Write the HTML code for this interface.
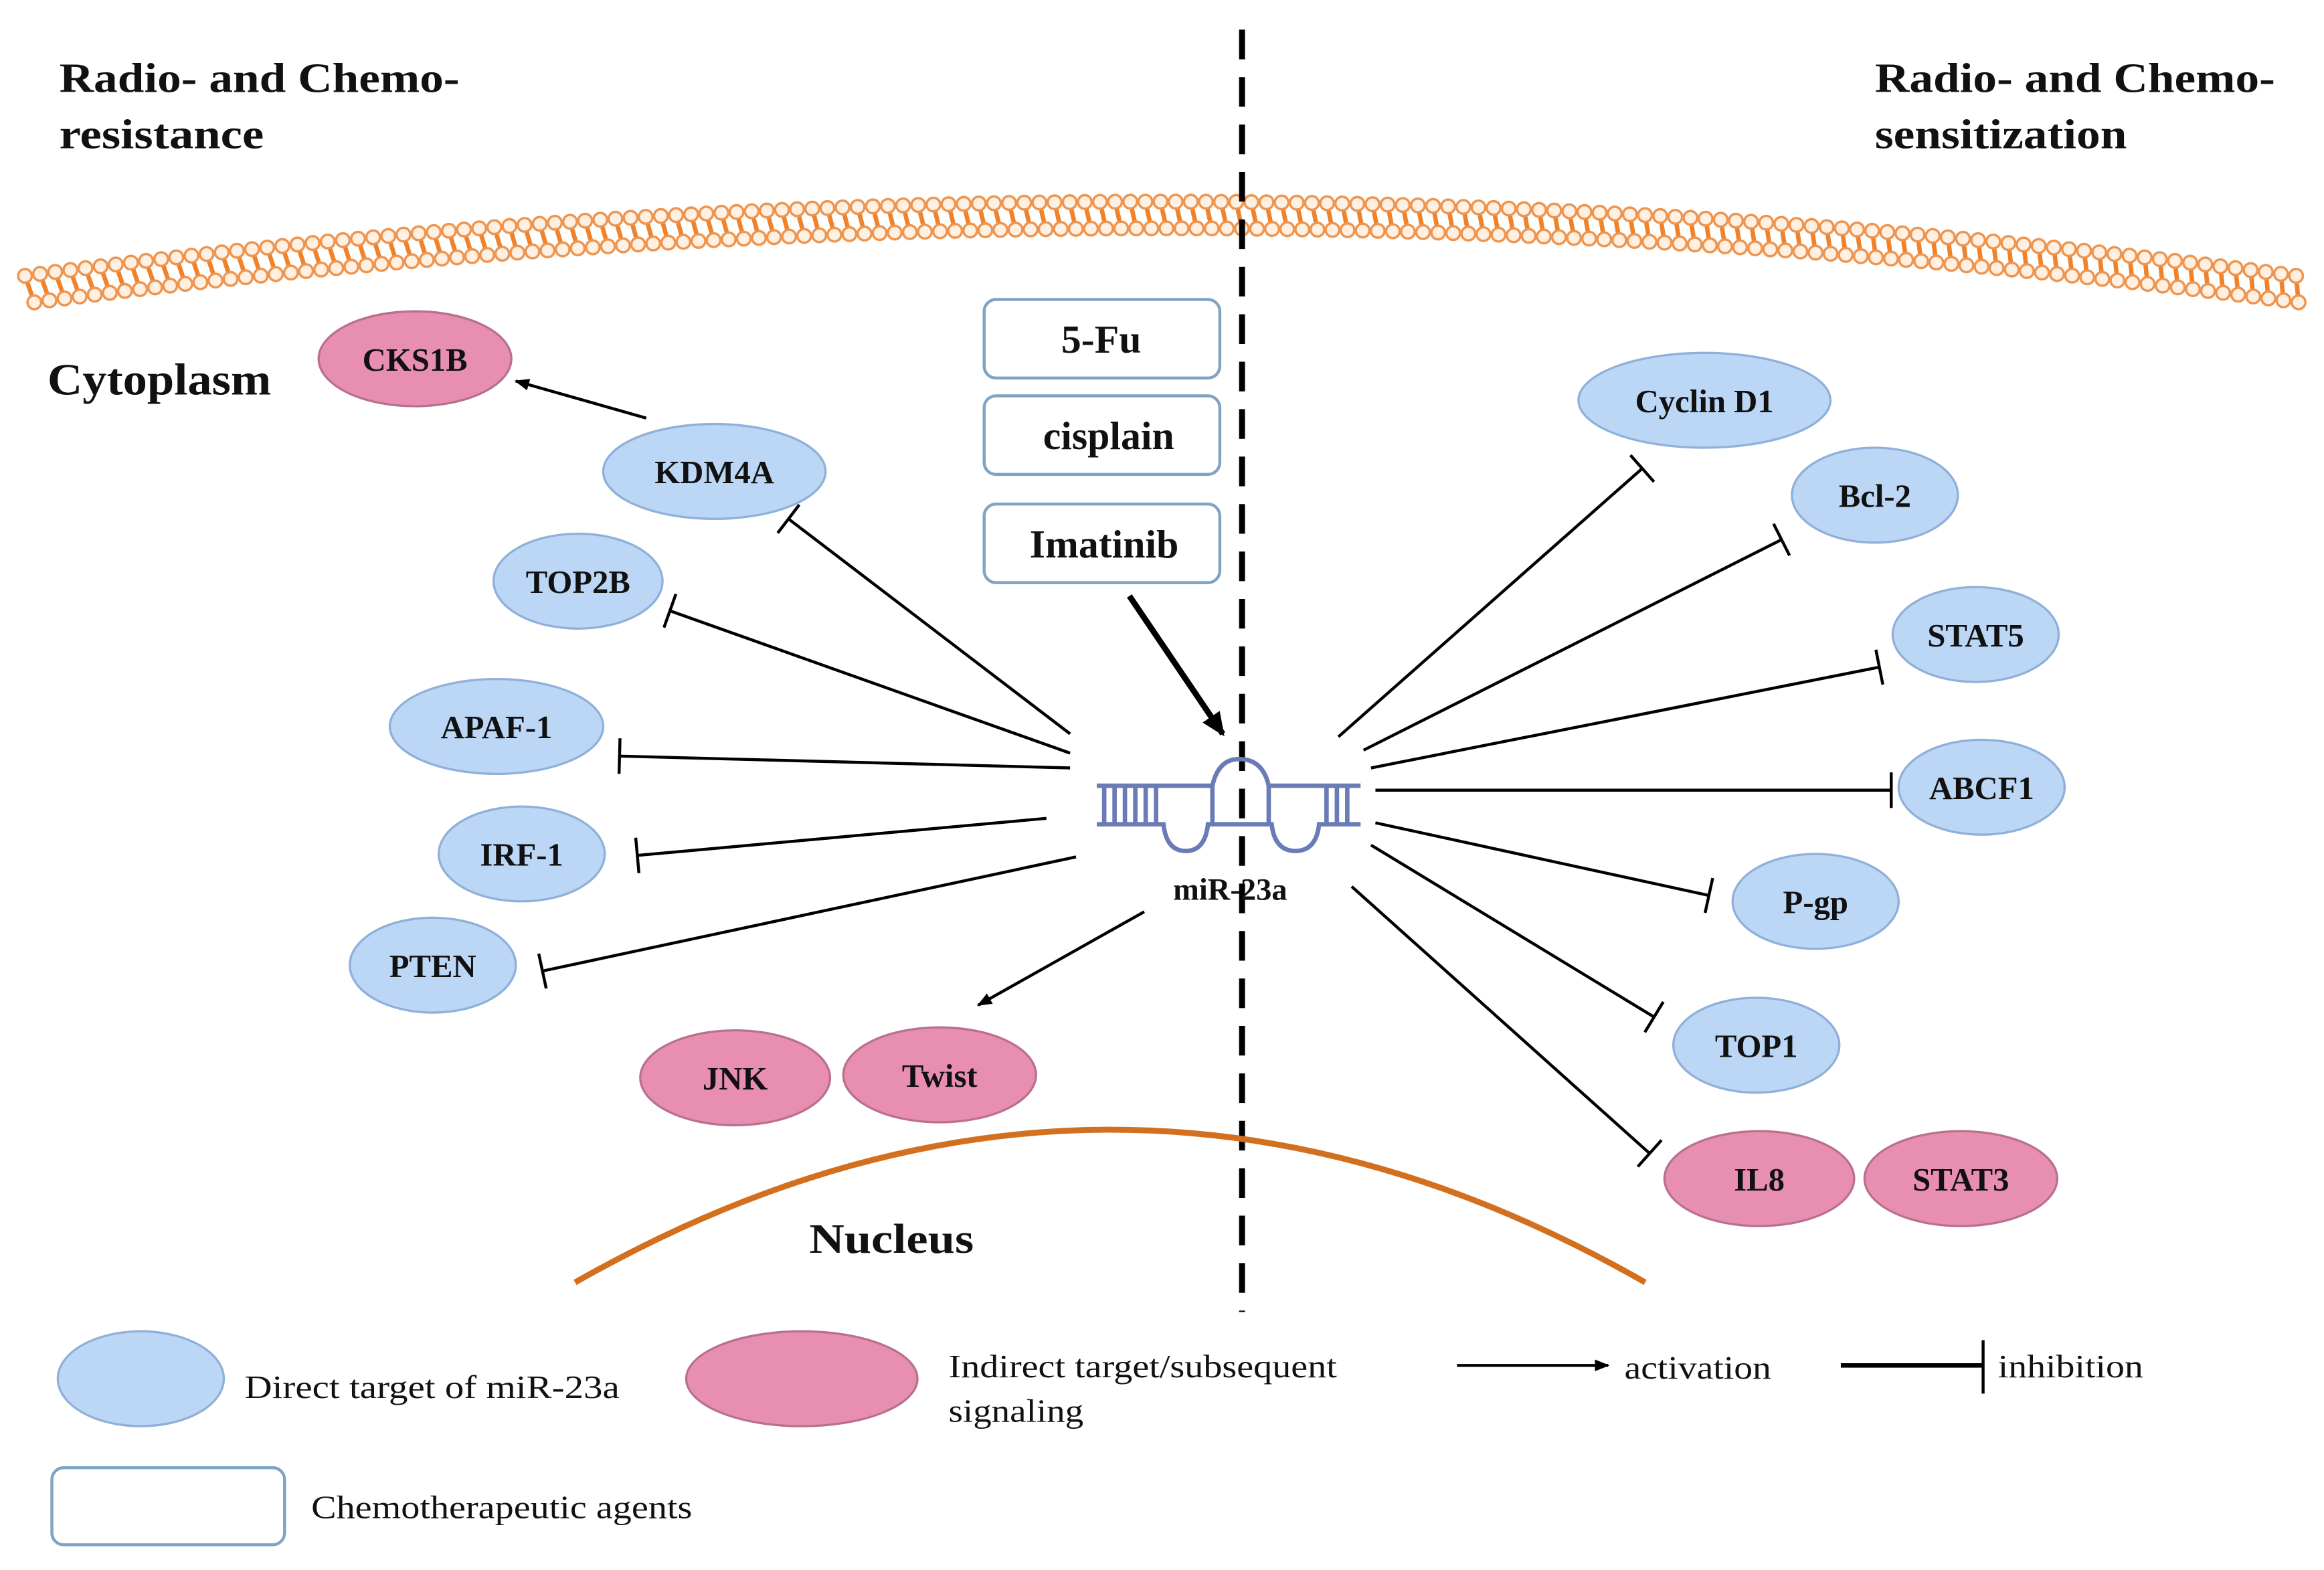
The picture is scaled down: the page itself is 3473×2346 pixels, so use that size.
<!DOCTYPE html>
<html><head><meta charset="utf-8">
<style>
html,body{margin:0;padding:0;background:#fff;}
svg{display:block;}
text{font-family:"Liberation Serif",serif;fill:#111;}
.b{font-weight:bold;}
</style></head>
<body>
<svg id="s" width="3473" height="2346" viewBox="0 0 1568 1059" preserveAspectRatio="none" xmlns="http://www.w3.org/2000/svg">
<rect width="1568" height="1059" fill="#fff"/>
<g id="mem"></g>
<line x1="838" y1="20" x2="838" y2="885" stroke="#000" stroke-width="4" stroke-dasharray="20 12"/>
<path d="M388,865 Q750,659 1110,865" fill="none" stroke="#d27020" stroke-width="4"/>

<defs>
<marker id="ar" markerWidth="10" markerHeight="10" refX="9" refY="5" orient="auto" markerUnits="userSpaceOnUse"><path d="M0,1 L10,5 L0,9 Z" fill="#000"/></marker>
<marker id="ar2" markerWidth="16" markerHeight="16" refX="14" refY="8" orient="auto" markerUnits="userSpaceOnUse"><path d="M0,1 L16,8 L0,15 Z" fill="#000"/></marker>
</defs>

<g id="inh" stroke="#000" stroke-width="2" fill="none"></g>
<g stroke="#000" stroke-width="2">
<line x1="436" y1="282" x2="348" y2="257" marker-end="url(#ar)"/>
<line x1="772" y1="615" x2="660" y2="678" marker-end="url(#ar)"/>
<line x1="762" y1="402" x2="825" y2="495" stroke-width="4" marker-end="url(#ar2)"/>
<line x1="983" y1="921" x2="1085" y2="921" marker-end="url(#ar)"/>
<line x1="1242" y1="921" x2="1338" y2="921" stroke-width="3"/>
<line x1="1338" y1="904" x2="1338" y2="940" stroke-width="2"/>
</g>

<g stroke="#6a7bb5" stroke-width="3" fill="none">
<path d="M740,530 L818,530 Q822,512 836,512 Q852,512 856,530 L918,530"/>
<path d="M740,556 L785,556 Q787,574 800,574 Q813,574 815,556 L858,556 Q860,574 874,574 Q888,574 890,556 L918,556"/>
<path d="M745,530V556M752,530V556M759,530V556M766,530V556M773,530V556M780,530V556M818,530V556M856,530V556M895,530V556M902,530V556M909,530V556"/>
</g>
<text x="830" y="607" text-anchor="middle" class="b" font-size="21">miR-23a</text>

<g fill="#fff" stroke="#7fa3c3" stroke-width="2">
<rect x="664" y="202" width="159" height="53" rx="8"/>
<rect x="664" y="267" width="159" height="53" rx="8"/>
<rect x="664" y="340" width="159" height="53" rx="8"/>
<rect x="35" y="990" width="157" height="52" rx="8"/>
</g>
<text x="743" y="238" text-anchor="middle" class="b" font-size="27">5-Fu</text>
<text x="748" y="303" text-anchor="middle" class="b" font-size="27">cisplain</text>
<text x="745" y="376" text-anchor="middle" class="b" font-size="27">Imatinib</text>

<g id="ell"></g>

<text x="40" y="62" class="b" font-size="28" textLength="270" lengthAdjust="spacingAndGlyphs">Radio- and Chemo-</text>
<text x="40" y="100" class="b" font-size="28" textLength="138" lengthAdjust="spacingAndGlyphs">resistance</text>
<text x="1265" y="62" class="b" font-size="28" textLength="270" lengthAdjust="spacingAndGlyphs">Radio- and Chemo-</text>
<text x="1265" y="100" class="b" font-size="28" textLength="170" lengthAdjust="spacingAndGlyphs">sensitization</text>
<text x="32" y="266" class="b" font-size="30" textLength="151" lengthAdjust="spacingAndGlyphs">Cytoplasm</text>
<text x="546" y="845" class="b" font-size="28" textLength="111" lengthAdjust="spacingAndGlyphs">Nucleus</text>

<text x="165" y="943" font-size="22" textLength="253" lengthAdjust="spacingAndGlyphs">Direct target of miR-23a</text>
<text x="640" y="929" font-size="22" textLength="262" lengthAdjust="spacingAndGlyphs">Indirect target/subsequent</text>
<text x="640" y="959" font-size="22" textLength="91" lengthAdjust="spacingAndGlyphs">signaling</text>
<text x="1096" y="930" font-size="22" textLength="99" lengthAdjust="spacingAndGlyphs">activation</text>
<text x="1348" y="929" font-size="22" textLength="98" lengthAdjust="spacingAndGlyphs">inhibition</text>
<text x="210" y="1024" font-size="22" textLength="257" lengthAdjust="spacingAndGlyphs">Chemotherapeutic  agents</text>
</svg>
<script>
var NS="http://www.w3.org/2000/svg";
function el(p,t,a,txt){var e=document.createElementNS(NS,t);for(var k in a)e.setAttribute(k,a[k]);if(txt)e.textContent=txt;p.appendChild(e);return e;}
var mem=document.getElementById("mem");
var P0=[20,195],C=[785,95],P2=[1550,195];
function q(t){var u=1-t;return[u*u*P0[0]+2*u*t*C[0]+t*t*P2[0],u*u*P0[1]+2*u*t*C[1]+t*t*P2[1]];}
function d(t){return[2*(1-t)*(C[0]-P0[0])+2*t*(P2[0]-C[0]),2*(1-t)*(C[1]-P0[1])+2*t*(P2[1]-C[1])];}
var N=150;
for(var i=0;i<=N;i++){var t=i/N,p=q(t),dv=d(t),L=Math.hypot(dv[0],dv[1]);var nx=-dv[1]/L,ny=dv[0]/L;if(ny<0){nx=-nx;ny=-ny;}
var a=[p[0]-nx*9-2,p[1]-ny*9],b=[p[0]+nx*9+2,p[1]+ny*9];
el(mem,"line",{x1:a[0],y1:a[1],x2:b[0],y2:b[1],stroke:"#f0822a","stroke-width":3});
el(mem,"circle",{cx:a[0],cy:a[1],r:4.6,fill:"#fff0e2",stroke:"#ee9550","stroke-width":1.6});
el(mem,"circle",{cx:b[0],cy:b[1],r:4.6,fill:"#fff0e2",stroke:"#ee9550","stroke-width":1.6});}
var inh=document.getElementById("inh");
[[722,495,532,350],[722,508,452,412],[722,518,418,510],[706,552,430,577],[726,578,366,655],
 [903,497,1108,316],[920,506,1202,364],[925,518,1268,450],[928,533,1276,533],[928,555,1153,604],[925,570,1116,686],[912,598,1113,778]].forEach(function(l){
 el(inh,"line",{x1:l[0],y1:l[1],x2:l[2],y2:l[3]});
 var dx=l[2]-l[0],dy=l[3]-l[1],L=Math.hypot(dx,dy),nx=-dy/L*12,ny=dx/L*12;
 el(inh,"line",{x1:l[2]+nx,y1:l[3]+ny,x2:l[2]-nx,y2:l[3]-ny});});
var g=document.getElementById("ell");
var B=["#bcd6f6","#8fb0d8"],P=["#e88fb1","#b9708f"];
[["CKS1B",280,242,65,P],["KDM4A",482,318,75,B],["TOP2B",390,392,57,B],["APAF-1",335,490,72,B],["IRF-1",352,576,56,B],["PTEN",292,651,56,B],
 ["JNK",496,727,64,P],["Twist",634,725,65,P],["Cyclin D1",1150,270,85,B],["Bcl-2",1265,334,56,B],["STAT5",1333,428,56,B],["ABCF1",1337,531,56,B],
 ["P-gp",1225,608,56,B],["TOP1",1185,705,56,B],["IL8",1187,795,64,P],["STAT3",1323,795,65,P],["",95,930,56,B],["",541,930,78,P]].forEach(function(e){
 el(g,"ellipse",{cx:e[1],cy:e[2],rx:e[3],ry:32,fill:e[4][0],stroke:e[4][1],"stroke-width":1.5});
 if(e[0])el(g,"text",{x:e[1],y:e[2]+8,"text-anchor":"middle","class":"b","font-size":22},e[0]);});
</script>
</body></html>
